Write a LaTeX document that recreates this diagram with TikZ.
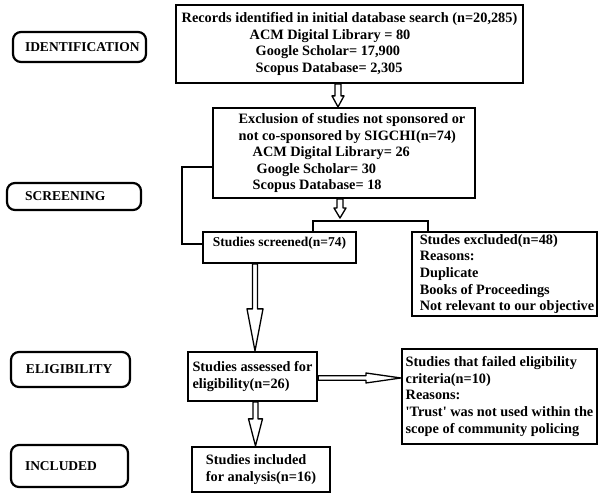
\documentclass[tikz,border=0pt]{standalone}
\usepackage{fontspec}
\setmainfont{Liberation Serif}
\usetikzlibrary{positioning, calc, backgrounds}

% text of a stage box, set from its left edge
\newcommand{\stagelabel}[3]{\makebox[#1][l]{\hspace*{#2}#3}}

\tikzset{
  blockarrow/.style n args={3}{draw, line width=1.3pt, line join=round, fill=white,
    to path={let \p1=(\tikztostart), \p2=(\tikztotarget),
      \n1={veclen(\x2-\x1,\y2-\y1)}, \n2={atan2(\y2-\y1,\x2-\x1)} in
      ([shift={(\p1)}, rotate=\n2]0pt,#1)
      -- ([shift={(\p1)}, rotate=\n2]\n1-#3,#1)
      -- ([shift={(\p1)}, rotate=\n2]\n1-#3,#2)
      -- ([shift={(\p1)}, rotate=\n2]\n1+0pt,0pt)
      -- ([shift={(\p1)}, rotate=\n2]\n1-#3,-#2)
      -- ([shift={(\p1)}, rotate=\n2]\n1-#3,-#1)
      -- ([shift={(\p1)}, rotate=\n2]0pt,-#1) -- cycle}}
}

\begin{document}
\begin{tikzpicture}[x=1pt, y=-1pt,
  box/.style={draw, line width=2.2pt, align=left, inner sep=2pt,
    font=\bfseries\fontsize{14.3}{16.6}\selectfont},
  stage/.style={draw, line width=2.2pt, rounded corners=8pt, inner xsep=0pt,
    font=\bfseries\fontsize{13.5}{16.5}\selectfont},
  link/.style={line width=2.2pt}
]
  \useasboundingbox (0,0) rectangle (598,494);

  % stages
  \node[stage, minimum height=30pt] (ident) at (79.5,47) {\stagelabel{133pt}{12pt}{IDENTIFICATION}};
  \node[stage, minimum height=27pt] (scrn) at (74,196.5) {\stagelabel{134pt}{18pt}{SCREENING}};
  \node[stage, minimum height=35pt] (elgb) at (70.5,369.5) {\stagelabel{119pt}{15pt}{ELIGIBILITY}};
  \node[stage, minimum height=42pt] (incl) at (69.5,466) {\stagelabel{117pt}{14pt}{INCLUDED}};

  % flow boxes
  \node[box, minimum width=347pt, minimum height=78pt] (rec) at (349.5,44)
    {Records identified in initial database search (n=20,285)\\
     \hspace*{68pt}ACM Digital Library = 80\\
     \hspace*{74pt}Google Scholar= 17,900\\
     \hspace*{74pt}Scopus Database= 2,305};
  \node[box, minimum width=262pt, minimum height=90pt, font=\bfseries\fontsize{14.3}{16.5}\selectfont] (ex) at (344,153)
    {\hspace*{16pt}Exclusion of studies not sponsored or\\
     \hspace*{16pt}not co-sponsored by SIGCHI(n=74)\\
     \hspace*{30pt}ACM Digital Library= 26\\
     \hspace*{34pt}Google Scholar= 30\\
     \hspace*{30pt}Scopus Database= 18};
  \node[box, minimum width=153pt, minimum height=31pt, text height=12.5pt, text depth=14.5pt,
    font=\bfseries\fontsize{13.5}{16.5}\selectfont] (scr) at (279.5,247.5)
    {Studies screened(n=74)};
  \node[box, minimum width=185pt, minimum height=82pt] (exc) at (504.5,274)
    {\hspace*{5pt}Studes excluded(n=48)\\\hspace*{5pt}Reasons:\\\hspace*{5pt}Duplicate\\
     \hspace*{5pt}Books of Proceedings\\\hspace*{5pt}Not relevant to our objective};
  \node[box, minimum width=129pt, minimum height=49pt] (elig) at (252.5,376.5)
    {Studies assessed for\\eligibility(n=26)};
  \node[box, minimum width=195pt, minimum height=95pt] (fail) at (499.5,396.5)
    {Studies that failed eligibility\\criteria(n=10)\\Reasons:\\
     \textquotesingle Trust\textquotesingle{} was not used within the\\scope of community policing};
  \node[box, minimum width=138pt, minimum height=45pt] (inc) at (261,469.5)
    {Studies included\\for analysis(n=16)};

  % connectors
  \coordinate (a1) at (338,95);
  \coordinate (a2) at (340,221);
  \coordinate (bl) at (313,221);
  \coordinate (br) at (428,221);
  \coordinate (a3) at ([xshift=2.5pt]elig.north);
  \coordinate (a4) at ([yshift=-1.5pt]elig.east);
  \coordinate (a5) at ([xshift=3pt]elig.south);

  \begin{scope}[on background layer]
    \draw[blockarrow={3pt}{6pt}{11pt}] (a1 |- rec.south) to (a1 |- ex.north);
    \draw[blockarrow={3pt}{6pt}{10pt}] (a2 |- ex.south) to ([yshift=3pt]a2);
    \draw[blockarrow={2.5pt}{8pt}{42pt}] (a3 |- scr.south) to (a3);
    \draw[blockarrow={2.2pt}{5pt}{35pt}] (a4) to (a4 -| fail.west);
    \draw[blockarrow={2.5pt}{7pt}{27pt}] (a5) to (a5 |- inc.north);
  \end{scope}

  \draw[link] (bl |- scr.north) -- (bl) -- (br) -- (br |- exc.north);
  \draw[link] ([yshift=-14pt]ex.west) -| ([xshift=-20pt]scr.mid west) -- (scr.mid west);
\end{tikzpicture}
\end{document}
